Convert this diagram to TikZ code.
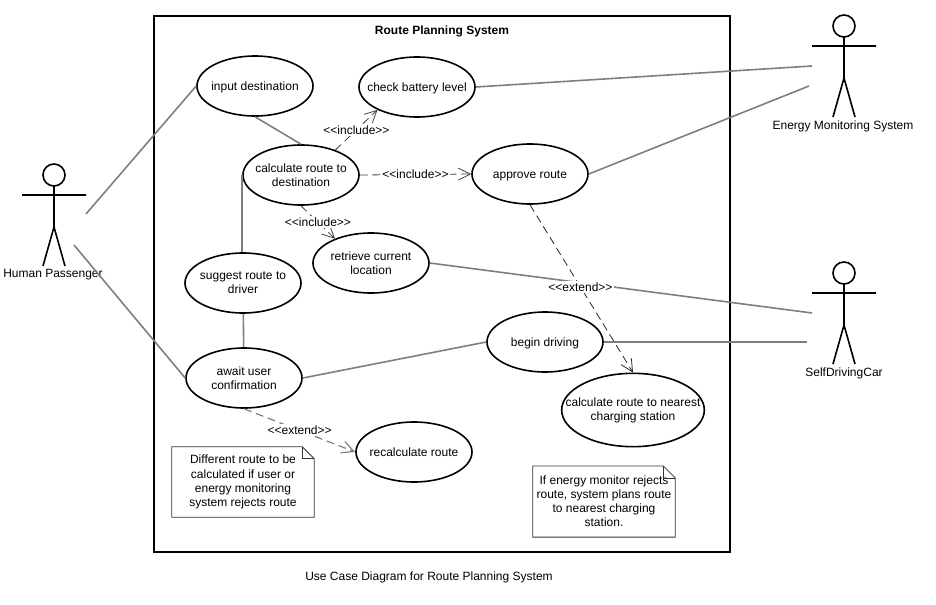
\documentclass[tikz,border=0pt]{standalone}
\usepackage{fontspec}
\setmainfont{Liberation Sans}
\usetikzlibrary{shapes.geometric,arrows.meta}
\definecolor{assocgray}{HTML}{7F7F7F}
\newcommand{\incl}{<{}<include>{}>}
\newcommand{\extd}{<{}<extend>{}>}
\tikzset{
  usecase/.style={draw,ellipse,line width=1.2pt,inner sep=-20pt,minimum width=87pt,minimum height=45pt,align=center,fill=white},
  oneline/.style={text height=8.5pt,text depth=2pt},
  assoc/.style={draw=assocgray,line width=1.2pt},
  depend/.style={draw=black!75,line width=0.6pt,dash pattern=on 6pt off 3.5pt,-{Straight Barb[length=9pt,width=9pt]}},
  deplabel/.style={fill=white,inner sep=1.2pt},
  notebox/.style={inner sep=0pt,minimum width=106.5pt,align=center},
  noteline/.style={draw=black!80,line width=0.6pt},
  actor/.pic={
    \draw[line width=1.2pt] (0,0) circle (11);
    \draw[line width=1.2pt] (0,11) -- (0,52) (-32,20) -- (32,20) (-11,91) -- (0,52) -- (11,91);
  }
}
\begin{document}
\begin{tikzpicture}[x=0.75pt,y=-0.75pt,font=\fontsize{9}{10.6}\selectfont]
\useasboundingbox (0,0) rectangle (936,604);
\node[draw,rectangle,line width=1.5pt,minimum width=432pt,minimum height=402pt,inner sep=0pt] (system) at (442,283.5) {};
\node[font=\fontsize{9}{10.6}\selectfont\bfseries] (title) at (442,31.5) {Route Planning System};
\node (caption) at (429,577.5) {Use Case Diagram for Route Planning System};

% actors
\pic at (54,175) {actor};
\pic at (844,26) {actor};
\pic at (844,273) {actor};
\node (human) at (53,275) {Human Passenger};
\node (energy) at (843,126) {Energy Monitoring System};
\node (car) at (844,373) {SelfDrivingCar};
\coordinate (humanup) at (86,214);
\coordinate (humandown) at (74,245);
\coordinate (energyup) at (812,66);
\coordinate (energydown) at (809,86);
\coordinate (carup) at (812,313);
\coordinate (carside) at (807,342);

% use cases
\node[usecase,oneline] (input) at (255,86) {input destination};
\node[usecase,oneline] (battery) at (417,87) {check battery level};
\node[usecase] (calc) at (301,175) {calculate route to\\destination};
\node[usecase,oneline] (approve) at (530,174) {approve route};
\node[usecase] (retrieve) at (371,263) {retrieve current\\location};
\node[usecase] (suggest) at (243,283) {suggest route to\\driver};
\node[usecase] (await) at (244,378) {await user\\confirmation};
\node[usecase,oneline] (begin) at (545,342) {begin driving};
\node[usecase,minimum width=107pt,minimum height=55pt] (charging) at (633,410) {calculate route to nearest\\charging station};
\node[usecase] (recalc) at (414,452) {recalculate route};

% associations
\draw[assoc] (humanup) -- (input.west);
\draw[assoc] (humandown) -- (await.west);
\draw[assoc] (input.south) -- (calc.north);
\draw[assoc] (calc.west) -- (suggest.north -| calc.west);
\draw[assoc] (suggest) -- (await);
\draw[assoc] (battery.east) -- (energyup);
\draw[assoc] (approve.east) -- (energydown);
\draw[assoc] (retrieve.east) -- (carup);
\draw[assoc] (begin.east) -- (carside);
\draw[assoc] (await.east) -- (begin.west);

% dependencies
\draw[depend] (calc.36) -- node[deplabel] (inc1) {\incl} (battery.210);
\draw[depend] (calc.east) -- node[deplabel] (inc2) {\incl} (approve.west);
\draw[depend] (calc.south) -- node[deplabel] (inc3) {\incl} (retrieve.146);
\draw[depend,draw=black!85] (approve.south) -- node[deplabel,pos=0.49] (ext1) {\extd} (charging.north);
\draw[depend,draw=assocgray,line width=0.9pt] (await.south) -- node[deplabel] (ext2) {\extd} (recalc.west);

% notes
\node[notebox,minimum height=52.5pt] (note1) at (243,482) {Different route to be\\calculated if user or\\energy monitoring\\system rejects route};
\node[notebox,minimum height=53pt] (note2) at (604,501.5) {If energy monitor rejects\\route, system plans route\\to nearest charging\\station.};
\foreach \n in {note1,note2} {
  \draw[noteline] (\n.south west) -- (\n.north west) -- ([xshift=-9pt]\n.north east) -- ([yshift=-9pt]\n.north east) -- (\n.south east) -- cycle;
  \draw[noteline] ([xshift=-9pt]\n.north east) -- ([xshift=-9pt,yshift=-9pt]\n.north east) -- ([yshift=-9pt]\n.north east);
}
\end{tikzpicture}
\end{document}
